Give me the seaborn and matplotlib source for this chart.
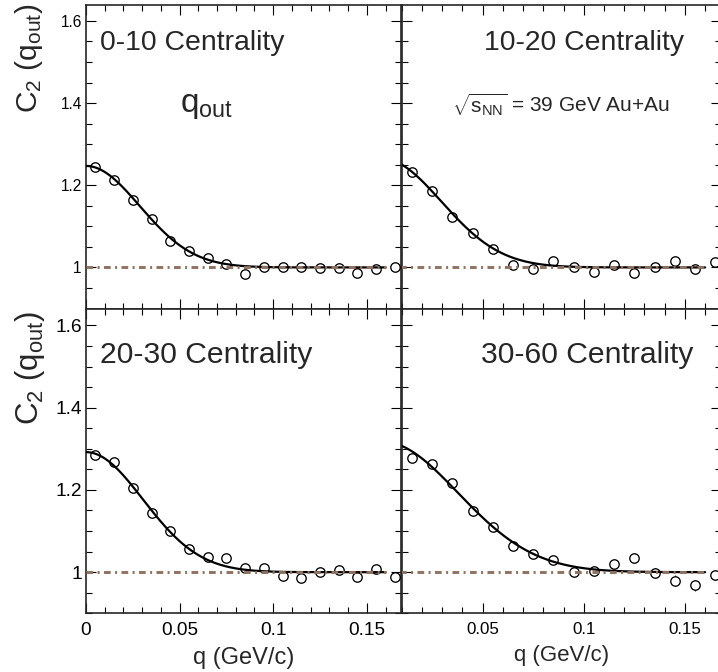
import numpy as np
import pandas as pd
import seaborn as sns
import matplotlib.pyplot as plt
from matplotlib.ticker import MultipleLocator, FuncFormatter

# q bins (GeV/c)
q_left = [0.005, 0.015, 0.025, 0.035, 0.045, 0.055, 0.065, 0.075, 0.085,
          0.095, 0.105, 0.115, 0.125, 0.135, 0.145, 0.155, 0.165]
q_right = q_left[1:]

# C2(q_out)
c2_0_10 = [1.244, 1.214, 1.164, 1.117, 1.065, 1.041, 1.022, 1.008, 0.985,
           1.002, 1.002, 1.002, 0.998, 0.998, 0.987, 0.997, 1.002]
c2_10_20 = [1.232, 1.186, 1.123, 1.083, 1.046, 1.006, 0.997, 1.015,
            1.000, 0.989, 1.006, 0.987, 1.002, 1.015, 0.995, 1.014]
c2_20_30 = [1.286, 1.269, 1.205, 1.144, 1.100, 1.056, 1.036, 1.035, 1.009,
            1.009, 0.990, 0.985, 1.001, 1.005, 0.988, 1.008, 0.989]
c2_30_60 = [1.278, 1.264, 1.218, 1.149, 1.110, 1.063, 1.044, 1.029,
            1.001, 1.003, 1.021, 1.034, 0.997, 0.979, 0.968, 0.993]

err_0_10 = [0.004] * 17
err_10_20 = [0.005] * 16
err_20_30 = [0.004, 0.004, 0.004, 0.005, 0.005, 0.005, 0.006, 0.006, 0.007,
             0.007, 0.008, 0.008, 0.009, 0.009, 0.009, 0.010, 0.010]
err_30_60 = [0.007, 0.007, 0.008, 0.008, 0.008, 0.009, 0.009, 0.010,
             0.010, 0.011, 0.012, 0.012, 0.012, 0.013, 0.013, 0.013]

# Gaussian fit parameters: C2 = 1 + lambda * exp(-(q R / hbar c)^2)
fit_lambda = [0.247, 0.265, 0.292, 0.318]
fit_radius = [4.87, 4.73, 4.59, 3.69]   # fm
fit_qmax = 0.16
hbarc = 0.19733

centrality = ["0-10", "10-20", "20-30", "30-60"]

sns.set_style("ticks")
plt.rcParams["font.family"] = ["Liberation Sans", "DejaVu Sans"]
plt.rcParams["mathtext.fontset"] = "custom"
plt.rcParams["mathtext.rm"] = "Liberation Sans"
plt.rcParams["mathtext.it"] = "Liberation Sans:italic"
plt.rcParams["mathtext.default"] = "regular"

W, H = 718, 672
fig = plt.figure(figsize=(W / 100, H / 100), dpi=100)


def box(x0, x1, ytop, ybot):
    return [x0 / W, 1 - ybot / H, (x1 - x0) / W, (ybot - ytop) / H]


axes = [
    fig.add_axes(box(86, 400.5, 4.5, 308.5)),
    fig.add_axes(box(401.8, 721.3, 4.5, 308.5)),
    fig.add_axes(box(86, 400.5, 309, 613.3)),
    fig.add_axes(box(401.8, 721.3, 309, 613.3)),
]

panels = [
    (q_left, c2_0_10, err_0_10),
    (q_right, c2_10_20, err_10_20),
    (q_left, c2_20_30, err_20_30),
    (q_right, c2_30_60, err_30_60),
]

fmt = FuncFormatter(lambda v, p: "%g" % round(v, 4))
q_fit = np.linspace(0, fit_qmax, 300)

for i, ax in enumerate(axes):
    q, c2, err = panels[i]
    df = pd.DataFrame({"q": q, "c2": c2})

    ax.errorbar(q, c2, yerr=err, fmt="none", ecolor="#1a1aff",
                elinewidth=0.8, capsize=0, zorder=2)
    sns.scatterplot(data=df, x="q", y="c2", ax=ax, marker="o", s=46,
                    facecolor="white", edgecolor="black", linewidth=0.95,
                    zorder=3)

    c_fit = 1 + fit_lambda[i] * np.exp(-(q_fit * fit_radius[i] / hbarc) ** 2)
    sns.lineplot(x=q_fit, y=c_fit, ax=ax, color="black", lw=1.6, zorder=4)
    ax.plot([0, fit_qmax], [1, 1], color="#8f7260", lw=2.1,
            linestyle=(0, (2.3, 1.5, 0.7, 1.5)), zorder=5)

    ax.set_xlim(0 if i % 2 == 0 else 0.01, 0.168)
    ax.set_ylim(0.9, 1.64)
    ax.set_xlabel("")
    ax.set_ylabel("")

    ax.xaxis.set_major_locator(MultipleLocator(0.05))
    ax.xaxis.set_minor_locator(MultipleLocator(0.01))
    ax.yaxis.set_major_locator(MultipleLocator(0.2))
    ax.yaxis.set_minor_locator(MultipleLocator(0.05))
    ax.xaxis.set_major_formatter(fmt)
    ax.yaxis.set_major_formatter(fmt)
    ax.tick_params(which="both", direction="in", top=True, right=True,
                   width=0.8, colors="black")
    ax.tick_params(which="major", length=7.5)
    ax.tick_params(which="minor", length=4)
    ax.tick_params(axis="y", pad=3)
    ax.tick_params(axis="x", pad=6)
    for s in ax.spines.values():
        s.set_linewidth(1.2)
        s.set_visible(True)

    if i >= 2:
        ax.set_xlabel("q (GeV/c)", fontsize=17 if i == 2 else 16, labelpad=6)
        ax.tick_params(axis="x", labelsize=13.7 if i == 2 else 12.2)
    else:
        ax.tick_params(axis="x", labelbottom=False)
    if i % 2 == 0:
        ax.tick_params(axis="y", labelsize=11.2 if i == 0 else 13.8)
    else:
        ax.tick_params(axis="y", labelleft=False)

# panel labels
label_pos = [(0.045, 0.850, 20.4), (0.256, 0.850, 20.4),
             (0.0445, 0.8225, 21.7), (0.249, 0.8225, 21.7)]
for ax, name, (x, y, size) in zip(axes, centrality, label_pos):
    ax.text(x, y, f"{name} Centrality", transform=ax.transAxes,
            fontsize=size, ha="left", va="baseline")

axes[0].text(0.30, 0.646, "$q_{out}$", transform=axes[0].transAxes,
             fontsize=24, ha="left", va="baseline")
axes[1].text(0.156, 0.646, r"$\sqrt{s_{NN}}$ = 39 GeV Au+Au",
             transform=axes[1].transAxes, fontsize=15, ha="left",
             va="baseline")

fig.text(29 / W, 1 - 4 / H, "$C_{2}$ $(q_{out})$", rotation=90,
         fontsize=21.5, ha="center", va="top")
fig.text(30 / W, 1 - 311 / H, "$C_{2}$ $(q_{out})$", rotation=90,
         fontsize=22.5, ha="center", va="top")

fig.savefig("out.png", dpi=100)
